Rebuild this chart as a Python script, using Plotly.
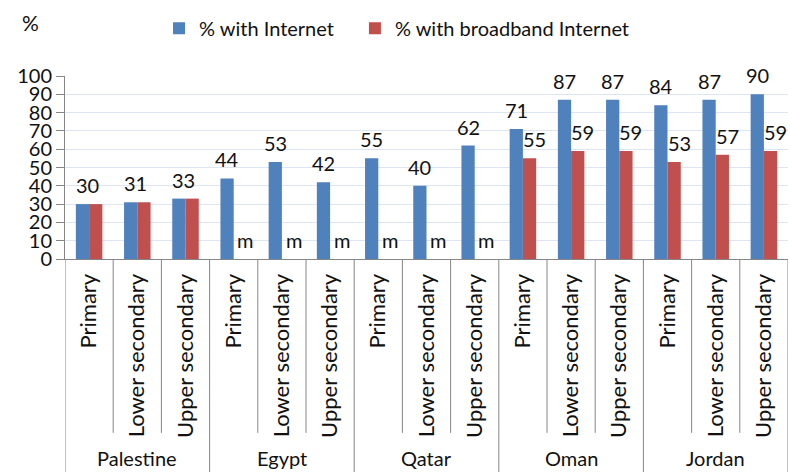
import plotly.graph_objects as go

countries = ["Palestine", "Egypt", "Qatar", "Oman", "Jordan"]
levels = ["Primary", "Lower secondary", "Upper secondary"]

# % of schools with Internet / with broadband Internet, per country and level
with_internet = [30, 31, 33, 44, 53, 42, 55, 40, 62, 71, 87, 87, 84, 87, 90]
with_broadband = [30, 31, 33, None, None, None, None, None, None, 55, 59, 59, 53, 57, 59]
missing_text = "m"

BLUE = "#4F81BD"
RED = "#C0504D"
AXIS = "#868686"
GRID = "#DCE5F1"
INK = "#111111"
FONT = "Lato"
FS = 20

n_lv = len(levels)
idx = list(range(len(countries) * n_lv))
tick_text = [levels[i % n_lv] for i in idx]

fig = go.Figure()
fig.add_trace(go.Bar(x=idx, y=with_internet, name="% with Internet",
                     marker=dict(color=BLUE, line=dict(width=0)), legend="legend"))
fig.add_trace(go.Bar(x=idx, y=[v if v is not None else 0 for v in with_broadband],
                     name="% with broadband Internet",
                     marker=dict(color=RED, line=dict(width=0)), legend="legend2"))

bargap = 0.45
half = (1 - bargap) / 4  # centre offset of each bar within its slot

annotations = []
for i, (a, b) in enumerate(zip(with_internet, with_broadband)):
    if b is not None and a == b:
        # identical values: one label over the pair
        annotations.append(dict(x=i, y=a, text=str(a), xshift=-2, yshift=5))
        continue
    annotations.append(dict(x=i - half, y=a, text=str(a), yshift=5))
    if b is None:
        annotations.append(dict(x=i + half, y=0, text=missing_text, xshift=5, yshift=5))
    else:
        annotations.append(dict(x=i + half, y=b, text=str(b), xshift=5, yshift=5))
for an in annotations:
    an.update(xref="x", yref="y", showarrow=False, yanchor="bottom",
              font=dict(family=FONT, size=FS, color=INK))

# "%" unit label above the value axis
annotations.append(dict(xref="paper", yref="paper", x=-0.062, y=1.37, xanchor="left",
                        yanchor="top", text="%", showarrow=False,
                        font=dict(family=FONT, size=FS + 1, color=INK)))

# country names under each group
for c, name in enumerate(countries):
    annotations.append(dict(xref="x", yref="paper", x=c * n_lv + 1, y=-1.09,
                            xanchor="center", yanchor="middle", text=name,
                            showarrow=False,
                            font=dict(family=FONT, size=FS, color=INK)))

# separators between categories (short) and between countries (full height)
shapes = []
for k in range(len(idx) + 1):
    boundary = (k % n_lv == 0)
    shapes.append(dict(type="line", xref="x", yref="paper",
                       x0=k - 0.5, x1=k - 0.5, y0=0,
                       y1=-1.2 if boundary else -0.95,
                       line=dict(color=AXIS, width=1)))

legend_style = dict(orientation="h", xanchor="left", y=1.368, yanchor="top",
                    font=dict(family=FONT, size=FS, color=INK),
                    bgcolor="rgba(0,0,0,0)")

fig.update_layout(
    width=790, height=472,
    margin=dict(l=65, r=2, t=76, b=213),
    paper_bgcolor="white", plot_bgcolor="white",
    barmode="group", bargap=bargap, bargroupgap=0,
    font=dict(family=FONT, size=FS, color=INK),
    legend=dict(x=0.13, **legend_style),
    legend2=dict(x=0.401, **legend_style),
    annotations=annotations,
    shapes=shapes,
    showlegend=True,
)
fig.update_xaxes(range=[-0.5, len(idx) - 0.5], tickmode="array", tickvals=idx,
                 ticktext=tick_text, tickangle=-90, ticks="",
                 showline=True, linecolor=AXIS, linewidth=1, showgrid=False,
                 zeroline=False, tickfont=dict(family=FONT, size=FS + 2, color=INK),
                 ticklabelstandoff=5)
fig.update_yaxes(range=[0, 100], dtick=10, ticks="outside", ticklen=8,
                 tickcolor=AXIS, showline=True, linecolor=AXIS, linewidth=1,
                 showgrid=True, gridcolor=GRID, gridwidth=1, zeroline=False,
                 tickfont=dict(family=FONT, size=FS, color=INK))

fig.write_html("out.html")
